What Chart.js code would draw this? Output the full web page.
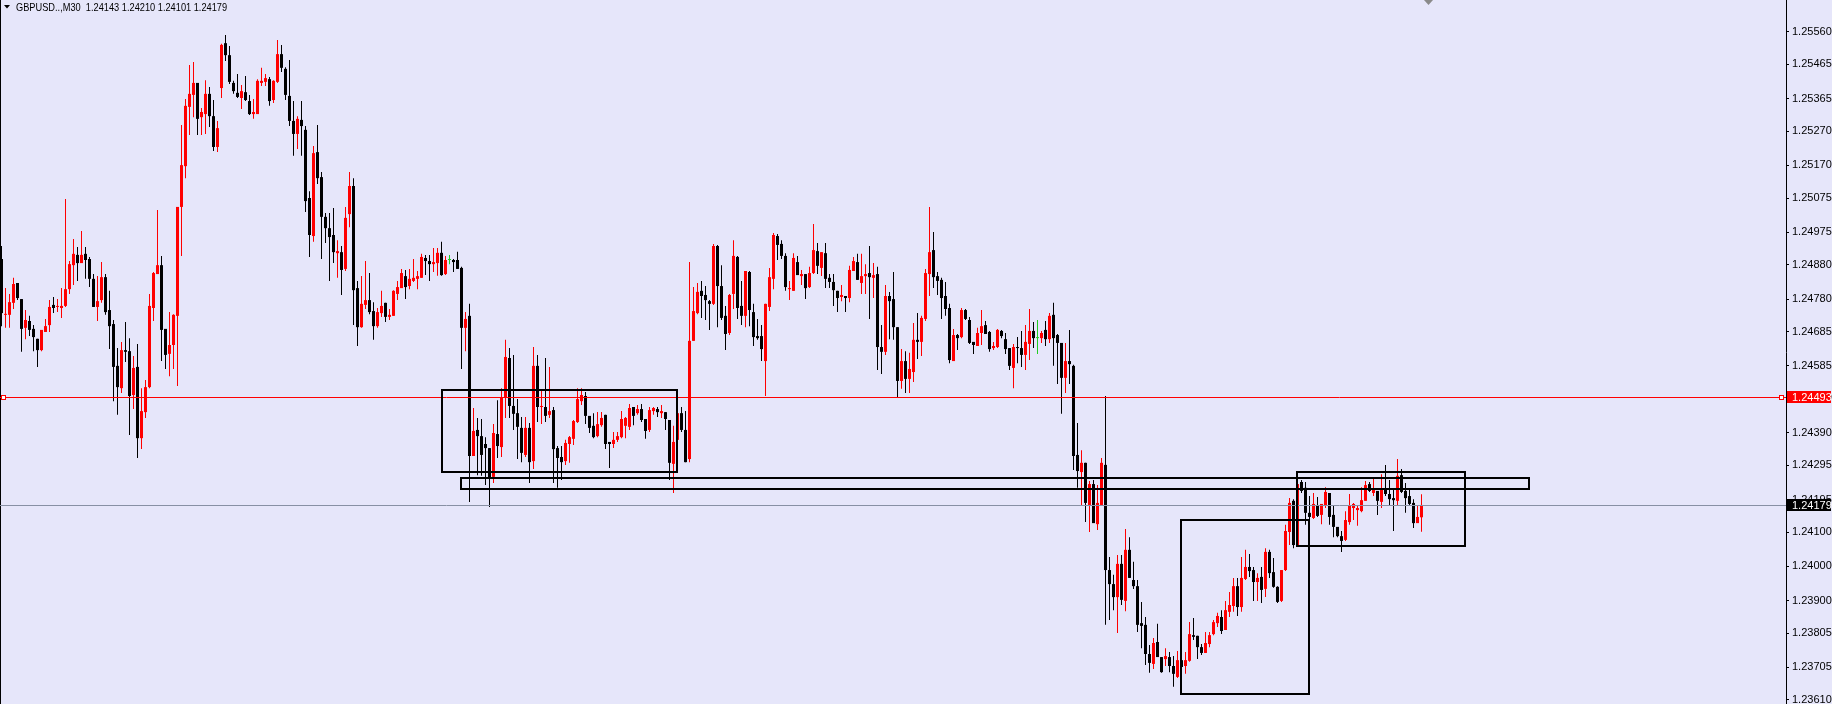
<!DOCTYPE html>
<html>
<head>
<meta charset="utf-8">
<script src="https://cdn.jsdelivr.net/npm/chart.js@4.4.0/dist/chart.umd.min.js"></script>
<style>
html, body { margin: 0; padding: 0; background: #e6e6fa; overflow: hidden; }
#wrap { position: relative; width: 1832px; height: 704px; }
#title { position: absolute; left: 16px; top: 1px; font: 11px "Liberation Sans Narrow", "Liberation Sans", sans-serif; color: #000; white-space: pre; transform: scaleX(0.84); transform-origin: 0 0; }
</style>
</head>
<body>
<div id="wrap">
  <canvas id="myChart"></canvas>
  <div id="title">GBPUSD..,M30  1.24143 1.24210 1.24101 1.24179</div>
</div>
<script>
// GBPUSD M30 candles, oldest first
let opens = [
1.24897,1.24734,1.24734,1.24769,1.24827,1.24780,1.24696,1.24716,1.24693,1.24664,
1.24631,1.24684,1.24704,1.24763,1.24757,1.24754,1.24760,1.24809,1.24879,1.24909,
1.24885,1.24912,1.24897,1.24839,1.24757,1.24777,1.24844,1.24748,1.24707,1.24585,
1.24520,1.24631,1.24628,1.24500,1.24582,1.24374,1.24450,1.24523,1.24754,1.24853,
1.24879,1.24693,1.24620,1.24646,1.24731,1.25049,1.25168,1.25341,1.25376,1.25411,
1.25311,1.25320,1.25379,1.25314,1.25224,1.25396,1.25527,1.25492,1.25411,1.25382,
1.25367,1.25384,1.25358,1.25320,1.25320,1.25411,1.25414,1.25422,1.25361,1.25414,
1.25495,1.25452,1.25373,1.25300,1.25262,1.25303,1.25274,1.25075,1.24964,1.25209,
1.25136,1.25020,1.24987,1.24967,1.24914,1.24917,1.24868,1.25028,1.25110,1.24812,
1.24698,1.24763,1.24777,1.24745,1.24701,1.24739,1.24769,1.24728,1.24731,1.24795,
1.24812,1.24847,1.24818,1.24833,1.24839,1.24842,1.24900,1.24891,1.24882,1.24885,
1.24915,1.24853,1.24894,1.24894,1.24894,1.24871,1.24696,1.24731,1.24322,1.24398,
1.24380,1.24357,1.24345,1.24261,1.24386,1.24348,1.24494,1.24608,1.24468,1.24447,
1.24404,1.24325,1.24404,1.24307,1.24585,1.24465,1.24465,1.24442,1.24456,1.24345,
1.24319,1.24307,1.24357,1.24372,1.24421,1.24482,1.24497,1.24439,1.24410,1.24380,
1.24412,1.24442,1.24363,1.24357,1.24369,1.24377,1.24410,1.24407,1.24465,1.24447,
1.24459,1.24430,1.24398,1.24453,1.24459,1.24447,1.24450,1.24427,1.24299,1.24369,
1.24447,1.24398,1.24313,1.24658,1.24739,1.24804,1.24792,1.24774,1.24766,1.24935,
1.24818,1.24731,1.24681,1.24795,1.24903,1.24760,1.24731,1.24859,1.24742,1.24672,
1.24672,1.24599,1.24757,1.24839,1.24964,1.24941,1.24906,1.24809,1.24804,1.24888,
1.24847,1.24853,1.24815,1.24856,1.24920,1.24871,1.24914,1.24842,1.24830,1.24804,
1.24786,1.24789,1.24783,1.24862,1.24888,1.24827,1.24847,1.24856,1.24842,1.24853,
1.24640,1.24626,1.24789,1.24780,1.24698,1.24541,1.24599,1.24547,1.24567,1.24661,
1.24655,1.24722,1.24853,1.24923,1.24847,1.24836,1.24789,1.24754,1.24599,1.24675,
1.24669,1.24748,1.24719,1.24655,1.24643,1.24681,1.24704,1.24684,1.24637,1.24640,
1.24687,1.24663,1.24637,1.24579,1.24640,1.24637,1.24617,1.24649,1.24687,1.24666,
1.24666,1.24690,1.24663,1.24734,1.24675,1.24652,1.24550,1.24599,1.24585,1.24325,
1.24275,1.24302,1.24179,1.24240,1.24123,1.24179,1.24296,1.23989,1.23948,1.23910,
1.24007,1.23899,1.24048,1.23960,1.23942,1.23834,1.23829,1.23744,1.23715,1.23779,
1.23735,1.23729,1.23735,1.23709,1.23677,1.23726,1.23709,1.23724,1.23799,1.23797,
1.23764,1.23747,1.23773,1.23802,1.23834,1.23852,1.23814,1.23867,1.23884,1.23942,
1.23881,1.23963,1.23998,1.23989,1.23954,1.23969,1.23934,1.24042,1.23983,1.23940,
1.23899,1.23989,1.24100,1.24191,1.24062,1.24246,1.24229,1.24156,1.24141,1.24179,
1.24150,1.24176,1.24214,1.24150,1.24115,1.24088,1.24077,1.24129,1.24170,1.24164,
1.24161,1.24191,1.24240,1.24214,1.24220,1.24188,1.24223,1.24211,1.24199,1.24191,
1.24266,1.24220,1.24205,1.24185,1.24126,1.24143
];
let highs = [
1.24935,1.24812,1.24795,1.24842,1.24827,1.24780,1.24748,1.24731,1.24704,1.24664,
1.24690,1.24722,1.24777,1.24786,1.24780,1.24812,1.25072,1.24891,1.24955,1.24932,
1.24979,1.24932,1.24903,1.24853,1.24847,1.24888,1.24853,1.24804,1.24719,1.24637,
1.24655,1.24713,1.24666,1.24614,1.24649,1.24520,1.24544,1.24795,1.24859,1.25040,
1.24906,1.24693,1.24742,1.24736,1.25049,1.25288,1.25364,1.25463,1.25472,1.25411,
1.25338,1.25419,1.25399,1.25361,1.25300,1.25525,1.25551,1.25519,1.25417,1.25437,
1.25405,1.25431,1.25376,1.25364,1.25422,1.25455,1.25437,1.25428,1.25419,1.25536,
1.25522,1.25457,1.25478,1.25358,1.25314,1.25358,1.25285,1.25095,1.25227,1.25288,
1.25151,1.25031,1.25031,1.25046,1.24952,1.24935,1.25049,1.25151,1.25133,1.24833,
1.24847,1.24891,1.24856,1.24771,1.24754,1.24804,1.24769,1.24751,1.24806,1.24833,
1.24868,1.24865,1.24868,1.24897,1.24862,1.24912,1.24909,1.24909,1.24929,1.24929,
1.24947,1.24906,1.24909,1.24897,1.24918,1.24874,1.24742,1.24766,1.24462,1.24433,
1.24430,1.24377,1.24345,1.24415,1.24485,1.24520,1.24661,1.24637,1.24617,1.24488,
1.24436,1.24436,1.24418,1.24640,1.24617,1.24515,1.24608,1.24582,1.24465,1.24351,
1.24351,1.24369,1.24380,1.24427,1.24520,1.24520,1.24509,1.24439,1.24447,1.24450,
1.24450,1.24442,1.24363,1.24392,1.24392,1.24453,1.24436,1.24474,1.24465,1.24471,
1.24474,1.24430,1.24465,1.24465,1.24465,1.24471,1.24450,1.24427,1.24410,1.24471,
1.24465,1.24453,1.24888,1.24815,1.24827,1.24833,1.24818,1.24777,1.24941,1.24938,
1.24879,1.24760,1.24795,1.24952,1.24906,1.24833,1.24862,1.24862,1.24766,1.24722,
1.24704,1.24766,1.24871,1.24973,1.24970,1.24952,1.24914,1.24833,1.24914,1.24906,
1.24865,1.24853,1.24874,1.24999,1.24944,1.24917,1.24944,1.24853,1.24853,1.24804,
1.24821,1.24789,1.24877,1.24903,1.24912,1.24912,1.24882,1.24935,1.24885,1.24874,
1.24704,1.24821,1.24801,1.24859,1.24698,1.24634,1.24628,1.24623,1.24710,1.24739,
1.24731,1.24868,1.25049,1.24976,1.24859,1.24842,1.24830,1.24766,1.24693,1.24678,
1.24754,1.24751,1.24728,1.24655,1.24696,1.24748,1.24716,1.24687,1.24655,1.24693,
1.24690,1.24681,1.24637,1.24649,1.24669,1.24687,1.24704,1.24751,1.24713,1.24719,
1.24687,1.24716,1.24739,1.24769,1.24678,1.24652,1.24652,1.24690,1.24588,1.24418,
1.24339,1.24302,1.24249,1.24252,1.24237,1.24316,1.24497,1.24027,1.23975,1.24033,
1.24033,1.24109,1.24085,1.24013,1.23960,1.23896,1.23852,1.23770,1.23791,1.23832,
1.23735,1.23761,1.23750,1.23738,1.23753,1.23764,1.23750,1.23837,1.23849,1.23797,
1.23773,1.23808,1.23808,1.23843,1.23864,1.23872,1.23899,1.23925,1.23966,1.23966,
1.24027,1.24048,1.24036,1.23998,1.23980,1.23998,1.24053,1.24048,1.24024,1.23942,
1.23989,1.24121,1.24199,1.24196,1.24252,1.24252,1.24246,1.24205,1.24214,1.24202,
1.24182,1.24231,1.24214,1.24176,1.24115,1.24103,1.24161,1.24211,1.24185,1.24179,
1.24231,1.24249,1.24246,1.24255,1.24220,1.24269,1.24296,1.24252,1.24223,1.24313,
1.24284,1.24243,1.24223,1.24196,1.24176,1.24210
];
let lows = [
1.24701,1.24696,1.24696,1.24751,1.24777,1.24626,1.24663,1.24672,1.24628,1.24582,
1.24628,1.24684,1.24684,1.24739,1.24742,1.24725,1.24757,1.24795,1.24821,1.24833,
1.24885,1.24839,1.24815,1.24757,1.24716,1.24769,1.24734,1.24634,1.24482,1.24442,
1.24506,1.24596,1.24383,1.24459,1.24316,1.24342,1.24433,1.24520,1.24716,1.24853,
1.24599,1.24576,1.24555,1.24576,1.24526,1.24906,1.25133,1.25259,1.25311,1.25259,
1.25259,1.25262,1.25282,1.25212,1.25209,1.25367,1.25475,1.25408,1.25379,1.25367,
1.25335,1.25358,1.25317,1.25306,1.25320,1.25402,1.25402,1.25344,1.25352,1.25411,
1.25443,1.25361,1.25285,1.25198,1.25218,1.25198,1.25034,1.24903,1.24947,1.25116,
1.24897,1.24944,1.24833,1.24885,1.24842,1.24792,1.24862,1.24990,1.24704,1.24643,
1.24696,1.24751,1.24736,1.24661,1.24696,1.24728,1.24713,1.24719,1.24731,1.24777,
1.24812,1.24780,1.24809,1.24830,1.24809,1.24842,1.24850,1.24833,1.24859,1.24848,
1.24848,1.24850,1.24882,1.24859,1.24868,1.24576,1.24628,1.24188,1.24322,1.24266,
1.24264,1.24237,1.24173,1.24243,1.24316,1.24319,1.24433,1.24433,1.24398,1.24313,
1.24304,1.24319,1.24243,1.24284,1.24421,1.24415,1.24421,1.24433,1.24243,1.24229,
1.24252,1.24296,1.24302,1.24354,1.24418,1.24471,1.24415,1.24389,1.24374,1.24377,
1.24407,1.24342,1.24287,1.24345,1.24363,1.24374,1.24374,1.24398,1.24412,1.24442,
1.24421,1.24372,1.24392,1.24442,1.24436,1.24433,1.24398,1.24252,1.24214,1.24281,
1.24392,1.24304,1.24304,1.24658,1.24736,1.24725,1.24719,1.24690,1.24763,1.24698,
1.24719,1.24631,1.24675,1.24751,1.24722,1.24704,1.24698,1.24701,1.24643,1.24661,
1.24599,1.24497,1.24745,1.24809,1.24894,1.24897,1.24804,1.24777,1.24804,1.24850,
1.24821,1.24780,1.24812,1.24853,1.24853,1.24847,1.24812,1.24812,1.24760,1.24742,
1.24774,1.24742,1.24771,1.24862,1.24836,1.24795,1.24795,1.24722,1.24783,1.24573,
1.24561,1.24617,1.24663,1.24661,1.24494,1.24518,1.24506,1.24506,1.24538,1.24605,
1.24614,1.24716,1.24789,1.24812,1.24792,1.24722,1.24731,1.24593,1.24599,1.24631,
1.24666,1.24719,1.24649,1.24620,1.24643,1.24646,1.24678,1.24626,1.24631,1.24637,
1.24666,1.24620,1.24573,1.24520,1.24593,1.24582,1.24573,1.24602,1.24637,1.24620,
1.24652,1.24643,1.24652,1.24585,1.24532,1.24445,1.24506,1.24532,1.24281,1.24229,
1.24176,1.24129,1.24100,1.24126,1.24106,1.24179,1.23829,1.23843,1.23872,1.23805,
1.23887,1.23869,1.23966,1.23934,1.23808,1.23761,1.23712,1.23689,1.23700,1.23735,
1.23689,1.23709,1.23691,1.23648,1.23674,1.23689,1.23686,1.23721,1.23785,1.23729,
1.23741,1.23747,1.23764,1.23799,1.23823,1.23802,1.23814,1.23852,1.23867,1.23855,
1.23867,1.23960,1.23969,1.23899,1.23899,1.23893,1.23910,1.23966,1.23937,1.23893,
1.23896,1.23986,1.24062,1.24053,1.24059,1.24214,1.24121,1.24121,1.24138,1.24144,
1.24123,1.24170,1.24121,1.24085,1.24085,1.24042,1.24074,1.24121,1.24135,1.24118,
1.24158,1.24191,1.24217,1.24205,1.24150,1.24170,1.24205,1.24179,1.24103,1.24179,
1.24214,1.24156,1.24179,1.24112,1.24126,1.24101
];
let closes = [
1.24739,1.24736,1.24771,1.24824,1.24783,1.24693,1.24719,1.24690,1.24669,1.24631,
1.24690,1.24701,1.24757,1.24754,1.24760,1.24760,1.24809,1.24882,1.24912,1.24885,
1.24909,1.24894,1.24839,1.24757,1.24774,1.24844,1.24742,1.24701,1.24582,1.24523,
1.24631,1.24626,1.24497,1.24579,1.24374,1.24453,1.24523,1.24760,1.24856,1.24879,
1.24690,1.24617,1.24646,1.24734,1.25049,1.25171,1.25344,1.25379,1.25411,1.25306,
1.25326,1.25379,1.25314,1.25224,1.25279,1.25522,1.25492,1.25414,1.25387,1.25370,
1.25387,1.25361,1.25320,1.25326,1.25417,1.25417,1.25425,1.25358,1.25417,1.25495,
1.25455,1.25376,1.25300,1.25262,1.25306,1.25285,1.25066,1.24967,1.25206,1.25133,
1.25020,1.24987,1.24961,1.24917,1.24920,1.24865,1.25017,1.25110,1.24806,1.24698,
1.24766,1.24777,1.24742,1.24701,1.24742,1.24760,1.24728,1.24734,1.24804,1.24815,
1.24856,1.24815,1.24839,1.24842,1.24847,1.24903,1.24891,1.24882,1.24888,1.24915,
1.24850,1.24894,1.24894,1.24888,1.24868,1.24696,1.24722,1.24322,1.24395,1.24380,
1.24325,1.24345,1.24258,1.24389,1.24351,1.24494,1.24611,1.24468,1.24445,1.24407,
1.24331,1.24404,1.24304,1.24585,1.24465,1.24468,1.24439,1.24453,1.24342,1.24316,
1.24304,1.24360,1.24377,1.24424,1.24488,1.24500,1.24439,1.24404,1.24377,1.24415,
1.24433,1.24357,1.24357,1.24369,1.24380,1.24430,1.24433,1.24462,1.24439,1.24459,
1.24427,1.24395,1.24456,1.24462,1.24450,1.24453,1.24430,1.24302,1.24363,1.24447,
1.24398,1.24304,1.24658,1.24745,1.24801,1.24789,1.24777,1.24766,1.24935,1.24818,
1.24725,1.24678,1.24792,1.24906,1.24754,1.24731,1.24862,1.24748,1.24669,1.24666,
1.24634,1.24766,1.24844,1.24967,1.24938,1.24906,1.24815,1.24812,1.24900,1.24850,
1.24853,1.24812,1.24856,1.24923,1.24877,1.24917,1.24839,1.24830,1.24806,1.24783,
1.24792,1.24783,1.24865,1.24891,1.24836,1.24847,1.24853,1.24844,1.24850,1.24640,
1.24626,1.24789,1.24774,1.24698,1.24541,1.24599,1.24547,1.24576,1.24661,1.24655,
1.24725,1.24856,1.24917,1.24844,1.24833,1.24783,1.24751,1.24602,1.24675,1.24666,
1.24748,1.24722,1.24652,1.24646,1.24681,1.24701,1.24678,1.24634,1.24643,1.24690,
1.24672,1.24634,1.24585,1.24640,1.24637,1.24617,1.24655,1.24687,1.24666,1.24666,
1.24681,1.24663,1.24731,1.24666,1.24652,1.24550,1.24599,1.24590,1.24322,1.24278,
1.24302,1.24185,1.24240,1.24126,1.24185,1.24302,1.23989,1.23948,1.23910,1.24007,
1.23902,1.24048,1.23966,1.23942,1.23829,1.23826,1.23744,1.23718,1.23776,1.23735,
1.23691,1.23738,1.23709,1.23686,1.23726,1.23706,1.23726,1.23802,1.23794,1.23764,
1.23747,1.23776,1.23799,1.23837,1.23855,1.23811,1.23872,1.23887,1.23942,1.23881,
1.23966,1.23998,1.23986,1.23954,1.23966,1.23931,1.24042,1.23980,1.23940,1.23896,
1.23989,1.24103,1.24185,1.24062,1.24240,1.24220,1.24156,1.24144,1.24182,1.24147,
1.24182,1.24217,1.24144,1.24115,1.24088,1.24074,1.24135,1.24176,1.24182,1.24170,
1.24193,1.24237,1.24220,1.24223,1.24191,1.24223,1.24211,1.24196,1.24193,1.24264,
1.24217,1.24199,1.24182,1.24126,1.24144,1.24179
];

let tickValues = [1.25560, 1.25465, 1.25365, 1.25270, 1.25170, 1.25075, 1.24975, 1.24880,
  1.24780, 1.24685, 1.24585, 1.24490, 1.24390, 1.24295, 1.24195, 1.24100, 1.24000,
  1.23900, 1.23805, 1.23705, 1.23610];
let yMin = 1.23598, yMax = 1.25653;
let barSlots = 446.5;          // bar positions visible across the chart
let levelPrice = 1.24493;      // red horizontal line
let bidPrice = 1.24179;        // last price
// rectangles drawn on the chart: bar index range and price range
let boxes = [
  { from: 110.05, to: 168.9, top: 1.24515, bottom: 1.24275 },
  { from: 114.8, to: 381.8, top: 1.24258, bottom: 1.24226 },
  { from: 294.8, to: 326.9, top: 1.24135, bottom: 1.23627 },
  { from: 323.9, to: 365.9, top: 1.24275, bottom: 1.24060 }
];

const fontFam = '"Liberation Sans Narrow", "Liberation Sans", sans-serif';
let idx = closes.map((c, i) => i);
let barColors = closes.map((c, i) => c > opens[i] ? '#ff0000' : (c < opens[i] ? '#000000' : '#22cc22'));

const overlay = {
  id: 'overlay',
  afterDatasetsDraw(chart) {
    const { ctx, chartArea: a, scales: { x, y } } = chart;
    ctx.save();
    // left border
    ctx.fillStyle = '#000';
    ctx.fillRect(0, 0, 1, chart.height);
    // bid line
    let yb = Math.round(y.getPixelForValue(bidPrice)) + 0.5;
    ctx.strokeStyle = '#8890a4';
    ctx.lineWidth = 1;
    ctx.beginPath(); ctx.moveTo(a.left, yb); ctx.lineTo(a.right, yb); ctx.stroke();
    // red level
    let yl = Math.round(y.getPixelForValue(levelPrice)) + 0.5;
    ctx.strokeStyle = '#ff0000';
    ctx.beginPath(); ctx.moveTo(a.left, yl); ctx.lineTo(a.right, yl); ctx.stroke();
    ctx.fillStyle = '#ffffff';
    [[1.5, yl - 2], [a.right - 6.5, yl - 2]].forEach(p => {
      ctx.fillRect(p[0], p[1], 4, 4);
      ctx.strokeRect(p[0], p[1], 4, 4);
    });
    // rectangles
    ctx.strokeStyle = '#000';
    ctx.lineWidth = 2;
    boxes.forEach(b => {
      let x1 = Math.round(x.getPixelForValue(b.from));
      let x2 = Math.round(x.getPixelForValue(b.to));
      let y1 = Math.round(y.getPixelForValue(b.top));
      let y2 = Math.round(y.getPixelForValue(b.bottom));
      ctx.strokeRect(x1, y1, x2 - x1, y2 - y1);
    });
    // header arrow and shift marker
    ctx.fillStyle = '#000';
    ctx.beginPath(); ctx.moveTo(4, 5); ctx.lineTo(10, 5); ctx.lineTo(7, 8.5); ctx.closePath(); ctx.fill();
    ctx.fillStyle = '#8a8a8a';
    ctx.beginPath(); ctx.moveTo(1424, 0); ctx.lineTo(1433, 0); ctx.lineTo(1428.5, 5); ctx.closePath(); ctx.fill();
    ctx.restore();
  },
  afterDraw(chart) {
    const { ctx, chartArea: a, scales: { y } } = chart;
    ctx.save();
    ctx.font = '11px ' + fontFam;
    ctx.textBaseline = 'middle';
    [[levelPrice, '#ff0000'], [bidPrice, '#000000']].forEach(([p, col]) => {
      let yy = Math.round(y.getPixelForValue(p));
      ctx.fillStyle = col;
      ctx.fillRect(a.right + 1, yy - 6, 44, 12);
      ctx.fillStyle = '#ffffff';
      ctx.fillText(p.toFixed(5), a.right + 6, yy + 0.5);
    });
    ctx.restore();
  }
};

new Chart("myChart", {
  type: "bar",
  data: {
    datasets: [{
      data: idx.map(i => ({ x: i, y: [lows[i], highs[i]] })),
      backgroundColor: barColors,
      barThickness: 1,
      grouped: false,
      inflateAmount: 0
    }, {
      data: idx.map(i => ({ x: i, y: [opens[i], closes[i]] })),
      backgroundColor: barColors,
      barThickness: 3,
      minBarLength: 1,
      grouped: false,
      inflateAmount: 0
    }]
  },
  options: {
    responsive: true,
    maintainAspectRatio: false,
    devicePixelRatio: 1,
    animation: false,
    events: [],
    layout: { padding: 0 },
    plugins: { legend: { display: false }, tooltip: { enabled: false } },
    scales: {
      x: {
        type: 'linear', display: false, offset: false,
        min: -0.375, max: barSlots - 0.375
      },
      y: {
        position: 'right', min: yMin, max: yMax,
        afterFit(s) { s.width = 46; s.paddingTop = 0; s.paddingBottom = 0; },
        afterBuildTicks(s) { s.ticks = tickValues.map(v => ({ value: v })); },
        grid: { drawOnChartArea: false, drawTicks: true, tickLength: 3, color: '#000', tickColor: '#000' },
        border: { display: true, color: '#000', width: 1 },
        ticks: {
          color: '#000', padding: 3, autoSkip: false,
          font: { family: fontFam, size: 11 },
          callback: v => Number(v).toFixed(5)
        }
      }
    }
  },
  plugins: [overlay]
});
</script>
</body>
</html>
